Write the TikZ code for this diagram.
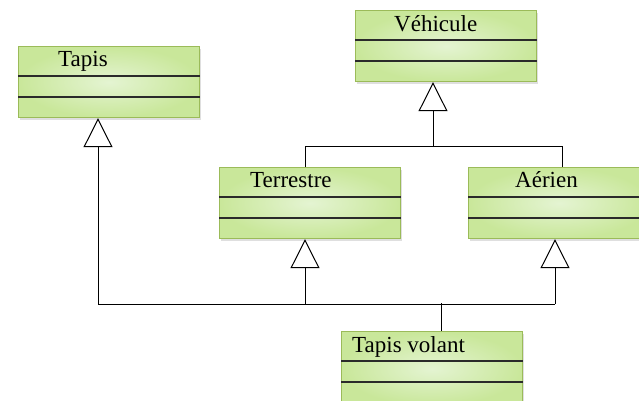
\documentclass[tikz,border=0pt]{standalone}
\usepackage{fontspec}
\setmainfont{Liberation Serif}
\newfontfamily\classfont{Liberation Serif}
\usetikzlibrary{arrows.meta,calc,shadows}

\definecolor{classedge}{HTML}{9BBB59}
\definecolor{classin}{HTML}{E4F4D2}
\definecolor{classout}{HTML}{C9E79A}
\definecolor{divider}{HTML}{2A2A2A}

\tikzset{
  umlclass/.style={
    rectangle, draw=classedge, line width=1.2pt,
    inner color=classin, outer color=classout,
    minimum width=181pt, minimum height=71pt, inner sep=0pt,
    drop shadow={opacity=0.25, shadow xshift=1.5pt, shadow yshift=-2pt}
  },
  classname/.style={anchor=base west, inner sep=0pt, font=\classfont\fontsize{23pt}{26pt}\selectfont},
  divline/.style={draw=divider, line width=1.3pt},
  assoc/.style={draw=black, line width=1pt},
  inherit/.style={assoc, -{Triangle[open, length=29pt, width=29pt, line width=1pt]}}
}

\begin{document}
\begin{tikzpicture}[x=1pt, y=-1pt]
  \useasboundingbox (0,0) rectangle (639,401);
  \clip (0,0) rectangle (639,401);

  % class boxes (top left corner, then size)
  \node[umlclass, anchor=north west] (tapis)    at (18,46)  {};
  \node[umlclass, anchor=north west] (vehicule) at (355,10) {};
  \node[umlclass, anchor=north west] (terre)    at (219,167) {};
  \node[umlclass, anchor=north west] (aerien)   at (468,167) {};
  \node[umlclass, anchor=north west, minimum height=74pt] (volant) at (341,331) {};

  % compartment dividers
  \foreach \c in {tapis, vehicule, terre, aerien, volant} {
    \draw[divline] ($(\c.north west)+(0,30)$) -- ($(\c.north east)+(0,30)$);
    \draw[divline] ($(\c.north west)+(0,51)$) -- ($(\c.north east)+(0,51)$);
  }

  % class names
  \node[classname] (ntapis)  at ($(tapis.north west)+(40,21)$)    {Tapis};
  \node[classname] (nveh)    at ($(vehicule.north west)+(39,22)$) {Véhicule};
  \node[classname] (nterre)  at ($(terre.north west)+(31,20)$)    {Terrestre};
  \node[classname] (naerien) at ($(aerien.north west)+(47,20)$)   {Aérien};
  \node[classname] (nvolant) at ($(volant.north west)+(11,21)$)   {Tapis volant};

  % Terrestre and Aérien specialise Véhicule
  \coordinate (vbus)   at ($(vehicule.south west)+(78,65)$);
  \coordinate (vleft)  at ($(terre.north west)+(86,-21)$);
  \coordinate (vright) at ($(aerien.north west)+(94,-21)$);
  \draw[assoc] ($(terre.north west)+(86,0)$) -- (vleft) -- (vright) -- ($(aerien.north west)+(94,0)$);
  \draw[inherit] (vbus) -- ($(vehicule.south west)+(78,0)$);

  % Tapis volant specialises Tapis, Terrestre and Aérien
  \coordinate (bus)    at ($(volant.north west)+(100,-28)$);
  \coordinate (bleft)  at ($(tapis.south west)+(80,186)$);
  \coordinate (bmid)   at ($(terre.south west)+(86,65)$);
  \coordinate (bright) at ($(aerien.south west)+(87,65)$);
  \draw[assoc] ($(volant.north west)+(100,0)$) -- (bus);
  \draw[assoc] (bleft) -- (bright);
  \draw[inherit] (bleft)  -- ($(tapis.south west)+(80,0)$);
  \draw[inherit] (bmid)   -- ($(terre.south west)+(86,0)$);
  \draw[inherit] (bright) -- ($(aerien.south west)+(87,0)$);
\end{tikzpicture}
\end{document}
